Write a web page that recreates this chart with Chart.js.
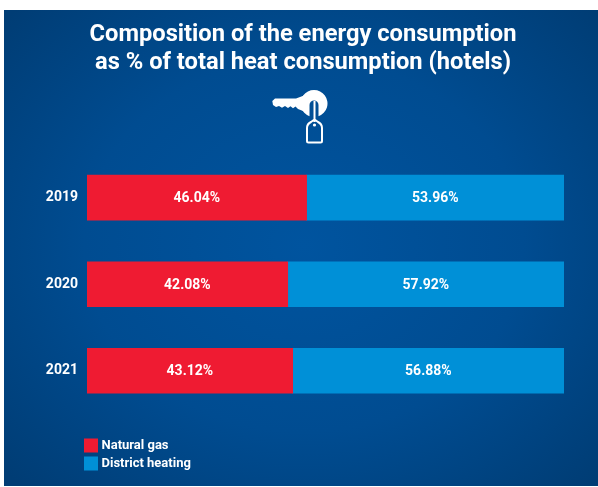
<!DOCTYPE html>
<html><head><meta charset="utf-8">
<script src="https://cdn.jsdelivr.net/npm/chart.js@4"></script>
<style>
html,body{margin:0;padding:0;background:#fff;width:598px;height:487px;overflow:hidden}
#panel{position:absolute;left:4px;top:10px;width:594px;height:476px;background:radial-gradient(ellipse 400px 340px at 300px 235px,#00549f 0%,#004c91 55%,#003d75 100%)}
#wrap{position:absolute;left:0;top:0;width:598px;height:487px}
#icon{position:absolute;left:268px;top:86px;width:64px;height:62px}
</style></head><body>
<div id="panel"></div>
<div id="wrap"><canvas id="c" width="598" height="487"></canvas></div>
<svg id="icon" viewBox="268 86 64 62">
  <path fill="#fff" d="M309.500 116.200A13.500 13.500 0 1 1 318.500 116.200L318.500 105a4.500 4.500 0 0 0-9 0Z"/>
  <path fill="#fff" d="M272.300 101L275 98.500H296L304 95.500L307 100V112.500L303 111L298 109L295.500 106.500L293 108.300L290.500 106.300L288 108L285 106L282 107.800L279 106L276 107L273 105Z"/>
  <path fill="none" stroke="#fff" stroke-width="2" d="M314.500 101V122M307 141V128Q307 124 311 122L314.500 119.500L318 122Q322 124 322 128V141Q322 142.500 320.500 142.500H308.500Q307 142.500 307 141Z"/>
  <circle cx="314.500" cy="125" r="1.600" fill="#fff"/>
</svg>
<script>
const categories = ["2019", "2020", "2021"];
const naturalGas = [46.04, 42.08, 43.12];
const districtHeating = [53.96, 57.92, 56.88];
const titleLines = ["Composition of the energy consumption", "as % of total heat consumption (hotels)"];

const barLabels = {
  id: "barLabels",
  afterDatasetsDraw(chart) {
    const ctx = chart.ctx;
    ctx.save();
    ctx.font = "bold 14px Roboto";
    ctx.fillStyle = "#fff";
    ctx.textAlign = "center";
    ctx.textBaseline = "middle";
    chart.data.datasets.forEach((ds, i) => {
      chart.getDatasetMeta(i).data.forEach((bar, j) => {
        const c = bar.getCenterPoint();
        ctx.fillText(ds.data[j].toFixed(2) + "%", c.x, c.y + 1);
      });
    });
    ctx.restore();
  }
};
const legendPlace = {
  id: "legendPlace",
  afterLayout(chart) {
    const l = chart.legend;
    const p = l.options.labels.padding;
    l.left = 87 - p;
    l.right = l.left + 150;
    l.top = 439 - p;
    l.bottom = l.top + 60;
    l.adjustHitBoxes();
  }
};

new Chart(document.getElementById("c"), {
  type: "bar",
  data: {
    labels: categories,
    datasets: [
      {label: "Natural gas", data: naturalGas, backgroundColor: "#ef1b32"},
      {label: "District heating", data: districtHeating, backgroundColor: "#0090d7"}
    ]
  },
  plugins: [barLabels, legendPlace],
  options: {
    indexAxis: "y",
    responsive: false,
    animation: false,
    devicePixelRatio: 1,
    layout: {padding: {left: 42, right: 34, top: 0, bottom: 73}},
    datasets: {bar: {barThickness: 45}},
    scales: {
      x: {stacked: true, min: 0, max: 100, display: false},
      y: {
        stacked: true,
        grid: {display: false},
        border: {display: false},
        afterFit(s) { s.width = 45; },
        ticks: {color: "#fff", font: {family: "Roboto", weight: "bold", size: 14}, padding: 1}
      }
    },
    plugins: {
      tooltip: {enabled: false},
      title: {
        display: true,
        text: titleLines,
        color: "#fff",
        font: {family: "Roboto", weight: "bold", size: 23.7, lineHeight: 1.18},
        padding: {top: 21, bottom: 77.5}
      },
      legend: {
        position: "chartArea",
        align: "start",
        labels: {
          color: "#fff",
          boxWidth: 8,
          boxHeight: 8,
          padding: 5,
          font: {family: "Roboto", weight: "bold", size: 13},
          generateLabels(chart) {
            return Chart.defaults.plugins.legend.labels.generateLabels(chart).map(item => {
              item.lineWidth = 6;
              item.strokeStyle = item.fillStyle;
              return item;
            });
          }
        }
      }
    }
  }
});
</script>
</body></html>
